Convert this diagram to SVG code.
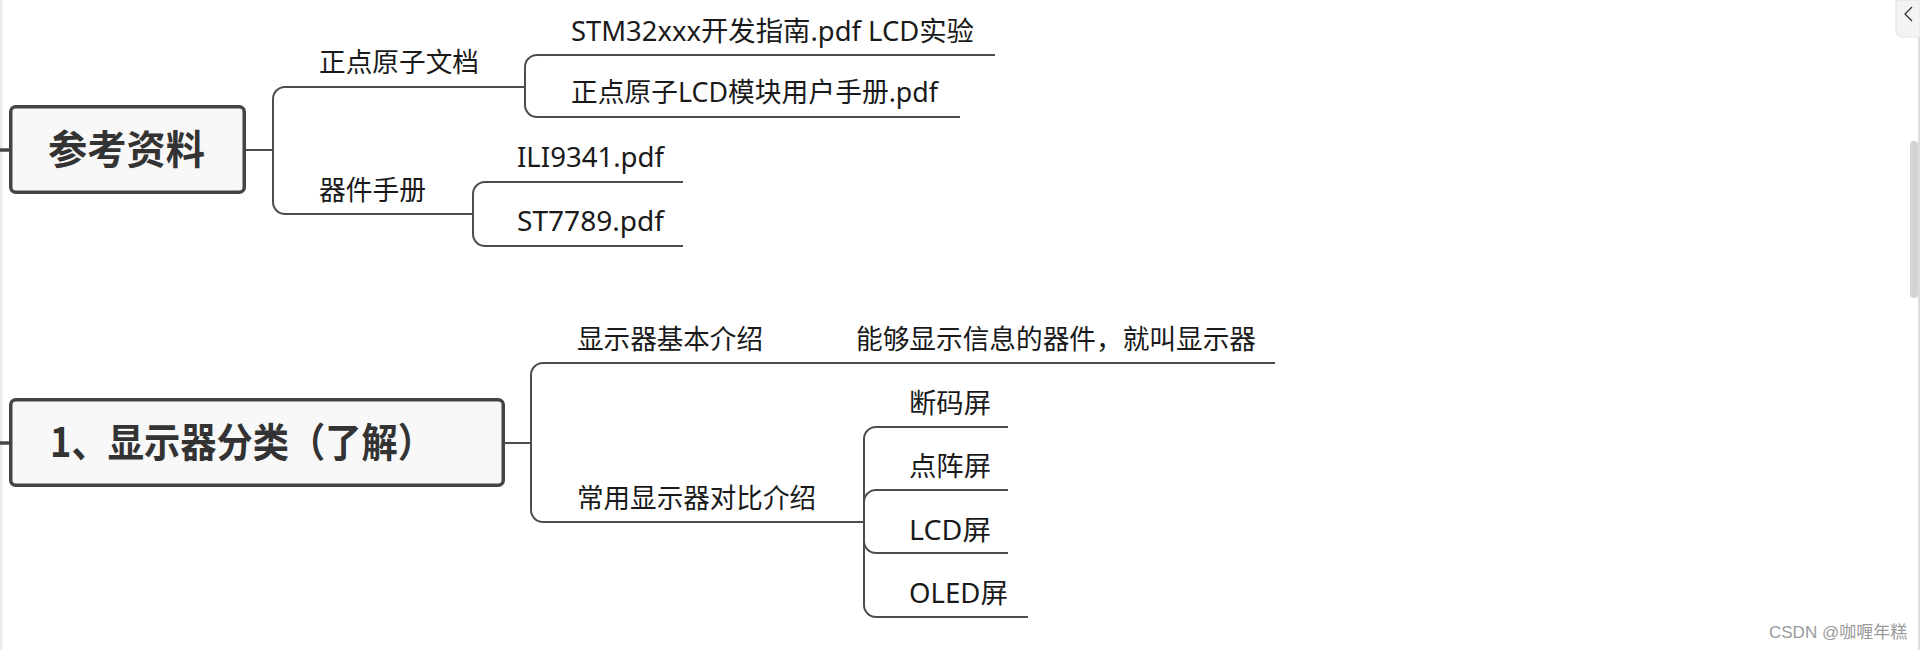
<svg xmlns="http://www.w3.org/2000/svg" width="1920" height="650" viewBox="0 0 1920 650">
<style>
.bg{fill:#ffffff}
.root rect{fill:#f8f8f8;stroke:#444444;stroke-width:3.5}
.title{font-family:"Noto Sans CJK SC","Noto Sans",sans-serif;font-weight:700;font-size:40px;fill:#333333}
.lbl{font-family:"Noto Sans","Noto Sans CJK SC",sans-serif;font-size:27px;fill:#1a1a1a}
.conn path{fill:none;stroke:#4d4d4d;stroke-width:2}
.stub{stroke:#444444;stroke-width:3.5}
.wm{font-family:"Liberation Sans","Noto Sans CJK SC",sans-serif;font-size:17px;fill:#9a9a9a}
</style>
<rect class="bg" x="0" y="0" width="1920" height="650"/>
<rect x="0" y="0" width="2.5" height="650" fill="#ebebeb"/>

<g id="connectors" class="conn">
  <path d="M246 150 H273"/>
  <path d="M273 150 V99 A12 12 0 0 1 285 87 H525"/>
  <path d="M273 150 V202 A12 12 0 0 0 285 214 H473"/>
  <path d="M525 87 V67 A12 12 0 0 1 537 55 H995"/>
  <path d="M525 87 V105 A12 12 0 0 0 537 117 H960"/>
  <path d="M473 214 V194 A12 12 0 0 1 485 182 H683"/>
  <path d="M473 214 V234 A12 12 0 0 0 485 246 H683"/>
  <path d="M505 443 H531"/>
  <path d="M531 443 V375 A12 12 0 0 1 543 363 H1275"/>
  <path d="M531 443 V510 A12 12 0 0 0 543 522 H864"/>
  <path d="M864 522 V439 A12 12 0 0 1 876 427 H1008"/>
  <path d="M864 522 V502 A12 12 0 0 1 876 490 H1008"/>
  <path d="M864 522 V541 A12 12 0 0 0 876 553 H1008"/>
  <path d="M864 522 V605 A12 12 0 0 0 876 617 H1028"/>
  <line class="stub" x1="0" y1="150" x2="10" y2="150"/>
  <line class="stub" x1="0" y1="443" x2="10" y2="443"/>
</g>

<g id="node-ref" class="root">
  <rect x="10.75" y="106.75" width="233.5" height="85.5" rx="5"/>
  <text class="title" x="48" y="164" textLength="157" lengthAdjust="spacingAndGlyphs">参考资料</text>
</g>
<g id="node-zdyz"><text class="lbl" x="319" y="72" textLength="160" lengthAdjust="spacingAndGlyphs">正点原子文档</text></g>
<g id="node-stm32"><text class="lbl" x="571" y="41" textLength="403" lengthAdjust="spacingAndGlyphs">STM32xxx开发指南.pdf LCD实验</text></g>
<g id="node-lcdmanual"><text class="lbl" x="571" y="102" textLength="367" lengthAdjust="spacingAndGlyphs">正点原子LCD模块用户手册.pdf</text></g>
<g id="node-qjsc"><text class="lbl" x="319" y="200" textLength="107" lengthAdjust="spacingAndGlyphs">器件手册</text></g>
<g id="node-ili"><text class="lbl" x="517" y="167" textLength="147" lengthAdjust="spacingAndGlyphs">ILI9341.pdf</text></g>
<g id="node-st"><text class="lbl" x="517" y="231" textLength="147" lengthAdjust="spacingAndGlyphs">ST7789.pdf</text></g>

<g id="node-cls" class="root">
  <rect x="10.75" y="399.75" width="492.5" height="85.5" rx="5"/>
  <text class="title" x="50" y="457" textLength="384" lengthAdjust="spacingAndGlyphs">1、显示器分类（了解）</text>
</g>
<g id="node-basic"><text class="lbl" x="577" y="349" textLength="186" lengthAdjust="spacingAndGlyphs">显示器基本介绍</text></g>
<g id="node-def"><text class="lbl" x="856" y="349" textLength="400" lengthAdjust="spacingAndGlyphs">能够显示信息的器件，就叫显示器</text></g>
<g id="node-compare"><text class="lbl" x="577" y="508" textLength="239" lengthAdjust="spacingAndGlyphs">常用显示器对比介绍</text></g>
<g id="node-seg"><text class="lbl" x="909" y="413" textLength="82" lengthAdjust="spacingAndGlyphs">断码屏</text></g>
<g id="node-dot"><text class="lbl" x="909" y="476" textLength="82" lengthAdjust="spacingAndGlyphs">点阵屏</text></g>
<g id="node-lcd"><text class="lbl" x="909" y="540" textLength="82" lengthAdjust="spacingAndGlyphs">LCD屏</text></g>
<g id="node-oled"><text class="lbl" x="909" y="603" textLength="99" lengthAdjust="spacingAndGlyphs">OLED屏</text></g>

<line x1="1919" y1="0" x2="1919" y2="650" stroke="#dddddd" stroke-width="2"/>
<path d="M1896 0 V31 A6 6 0 0 0 1902 37 H1920 V0 Z" fill="#f3f3f3" stroke="#e2e2e2" stroke-width="1"/>
<path d="M1912 7 L1905 14 L1912 21" fill="none" stroke="#333333" stroke-width="1.3"/>
<rect x="1910" y="141" width="8" height="157" rx="4" fill="#d4d4d4"/>
<text class="wm" x="1769" y="638">CSDN @咖喱年糕</text>
</svg>
